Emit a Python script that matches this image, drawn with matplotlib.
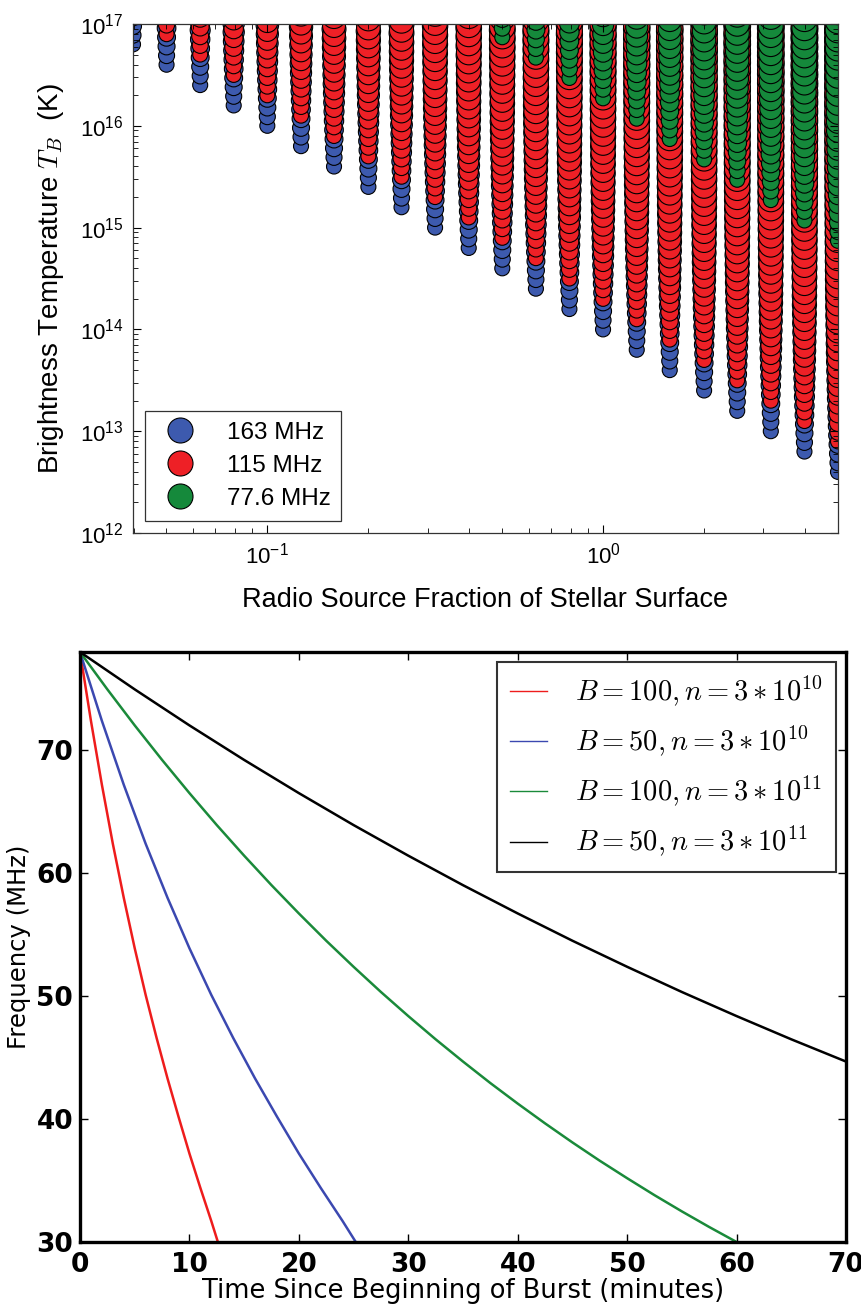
import numpy as np
import matplotlib
matplotlib.use('Agg')
import matplotlib.pyplot as plt
from matplotlib.lines import Line2D
from matplotlib.ticker import LogLocator, NullFormatter, MultipleLocator

plt.rcParams['font.family'] = ['Liberation Sans', 'DejaVu Sans']
plt.rcParams['mathtext.fontset'] = 'cm'

# ---------------- top panel data ----------------
fractions = [0.0398, 0.0501, 0.0631, 0.0794, 0.100, 0.126, 0.158, 0.200, 0.251, 0.316, 0.398,
             0.501, 0.631, 0.794, 1.00, 1.26, 1.58, 2.00, 2.51, 3.16, 3.98, 5.01]
# lowest log10(T_B) in each column, per frequency
logT_min_163 = [16.80, 16.60, 16.40, 16.20, 16.00, 15.80, 15.60, 15.40, 15.20, 15.00, 14.80,
                14.60, 14.40, 14.20, 14.00, 13.80, 13.60, 13.40, 13.20, 13.00, 12.80, 12.60]
logT_min_115 = [17.10, 16.90, 16.70, 16.50, 16.30, 16.10, 15.90, 15.70, 15.50, 15.30, 15.10,
                14.90, 14.70, 14.50, 14.30, 14.10, 13.90, 13.70, 13.50, 13.30, 13.10, 12.90]
logT_min_776 = [19.07, 18.87, 18.67, 18.47, 18.27, 18.07, 17.87, 17.67, 17.47, 17.27, 17.07,
                16.87, 16.67, 16.47, 16.27, 16.07, 15.87, 15.67, 15.47, 15.27, 15.07, 14.87]
logT_max = 17.3       # columns continue beyond the top of the plot
logT_step = 0.09      # spacing of the points within a column
freq_labels = ['163 MHz', '115 MHz', '77.6 MHz']
freq_colors = ['#3d5aae', '#ee2026', '#15893b']

# ---------------- bottom panel data ----------------
t_red = [0, 1, 2, 3, 4, 5, 6, 7, 8, 9, 10, 11, 12, 12.6]
f_red = [78, 72.4, 67.2, 62.4, 58.0, 53.9, 50.1, 46.6, 43.3, 40.2, 37.2, 34.4, 31.7, 30.0]
t_blue = [0, 2, 4, 6, 8, 10, 12, 14, 16, 18, 20, 22, 24, 25.2]
f_blue = [78, 72.4, 67.2, 62.4, 58.0, 53.9, 50.1, 46.6, 43.3, 40.2, 37.2, 34.4, 31.7, 30.0]
t_green = [0, 2.5, 5, 7.5, 10, 12.5, 15, 17.5, 20, 22.5, 25, 27.5, 30, 32.5, 35, 37.5, 40,
           42.5, 45, 47.5, 50, 52.5, 55, 57.5, 60]
f_green = [78, 74.96, 72.03, 69.22, 66.52, 63.92, 61.43, 59.03, 56.73, 54.51, 52.39, 50.34,
           48.38, 46.49, 44.68, 42.93, 41.26, 39.65, 38.10, 36.61, 35.19, 33.81, 32.49, 31.22, 30.0]
t_black = [0, 5, 10, 15, 20, 25, 30, 35, 40, 45, 50, 55, 60, 65, 70]
f_black = [78, 74.96, 72.03, 69.22, 66.52, 63.92, 61.43, 59.03, 56.73, 54.51, 52.39, 50.34,
           48.38, 46.49, 44.68]
curve_labels = [r'$B=100,n=3*10^{10}$', r'$B=50,n=3*10^{10}$',
                r'$B=100,n=3*10^{11}$', r'$B=50,n=3*10^{11}$']
curve_colors = ['#ee1c1c', '#3b48b0', '#1a8a3a', '#000000']

W, H = 862, 1306
fig = plt.figure(figsize=(W / 100, H / 100), dpi=100)

# ================= top panel =================
ax1 = fig.add_axes([133 / W, 1 - 533 / H, (838 - 133) / W, (533 - 24) / H])

def diam_pt(d):
    px = 15 + 12 * (1 - np.exp(-d / 1.0))
    return px * 0.72

for mins, col in zip([logT_min_163, logT_min_115, logT_min_776], freq_colors):
    xs, ys, ss = [], [], []
    for fr, lo in zip(fractions, mins):
        if lo > logT_max:
            continue
        n = int(np.floor((logT_max - lo) / logT_step)) + 1
        for j in range(n):
            d = j * logT_step
            xs.append(fr)
            ys.append(10 ** (lo + d))
            ss.append(diam_pt(d) ** 2)
    ax1.scatter(xs, ys, s=ss, c=col, edgecolors='black', linewidths=0.8)

ax1.set_xscale('log')
ax1.set_yscale('log')
ax1.set_xlim(fractions[0], fractions[-1])
ax1.set_ylim(1e12, 1e17)
ax1.yaxis.set_major_locator(LogLocator(base=10, numticks=10))
ax1.yaxis.set_minor_locator(LogLocator(base=10, subs=np.arange(2, 10), numticks=20))
ax1.yaxis.set_minor_formatter(NullFormatter())
ax1.xaxis.set_minor_formatter(NullFormatter())
ax1.tick_params(which='both', direction='in', top=True, right=True, labelsize=16, pad=7)
ax1.tick_params(which='major', length=6, width=0.8)
ax1.tick_params(which='minor', length=3.5, width=0.6)
for sp in ax1.spines.values():
    sp.set_linewidth(0.9)
    sp.set_color('#333333')
ax1.set_xlabel('Radio Source Fraction of Stellar Surface', fontsize=19.5, labelpad=13)
ax1.set_ylabel(r'Brightness Temperature $T_B$  (K)', fontsize=20, labelpad=10)

handles = [Line2D([], [], linestyle='none', marker='o', markersize=18, markerfacecolor=c,
                  markeredgecolor='black', markeredgewidth=0.8) for c in freq_colors]
leg = ax1.legend(handles, freq_labels, loc='lower left', fontsize=17.5, frameon=True,
                 fancybox=False, borderaxespad=0.5, labelspacing=0.45, handletextpad=0.9,
                 borderpad=0.45)
leg.get_frame().set_edgecolor('black')
leg.get_frame().set_linewidth(0.9)

# ================= bottom panel =================
ax2 = fig.add_axes([80 / W, 1 - 1242 / H, (846 - 80) / W, (1242 - 652) / H])
for t, f, c in zip([t_red, t_blue, t_green, t_black], [f_red, f_blue, f_green, f_black], curve_colors):
    ax2.plot(t, f, color=c, lw=1.8)
ax2.set_xlim(0, 70)
ax2.set_ylim(30, 78)
ax2.xaxis.set_major_locator(MultipleLocator(10))
ax2.yaxis.set_major_locator(MultipleLocator(10))
ax2.tick_params(direction='in', top=True, right=True, length=6, width=1)
ax2.tick_params(axis='x', pad=7)
ax2.tick_params(axis='y', pad=5)
for lab in ax2.get_xticklabels() + ax2.get_yticklabels():
    lab.set_fontfamily('DejaVu Sans')
    lab.set_fontweight('bold')
    lab.set_fontsize(19)
for sp in ax2.spines.values():
    sp.set_linewidth(2.4)
ax2.set_xlabel('Time Since Beginning of Burst (minutes)', fontsize=18.5, fontfamily='DejaVu Sans',
               labelpad=0)
ax2.set_ylabel('Frequency (MHz)', fontsize=17.5, fontfamily='DejaVu Sans', labelpad=4)

lh = [Line2D([], [], color=c, lw=1.0) for c in curve_colors]
leg2 = ax2.legend(lh, curve_labels, loc='upper right', fontsize=20.5, frameon=True, fancybox=False,
                  borderaxespad=0.35, handlelength=1.3, handletextpad=1.0, labelspacing=0.55,
                  borderpad=0.45)
leg2.get_frame().set_edgecolor('black')
leg2.get_frame().set_linewidth(1.5)

fig.savefig('out.png', dpi=100)
